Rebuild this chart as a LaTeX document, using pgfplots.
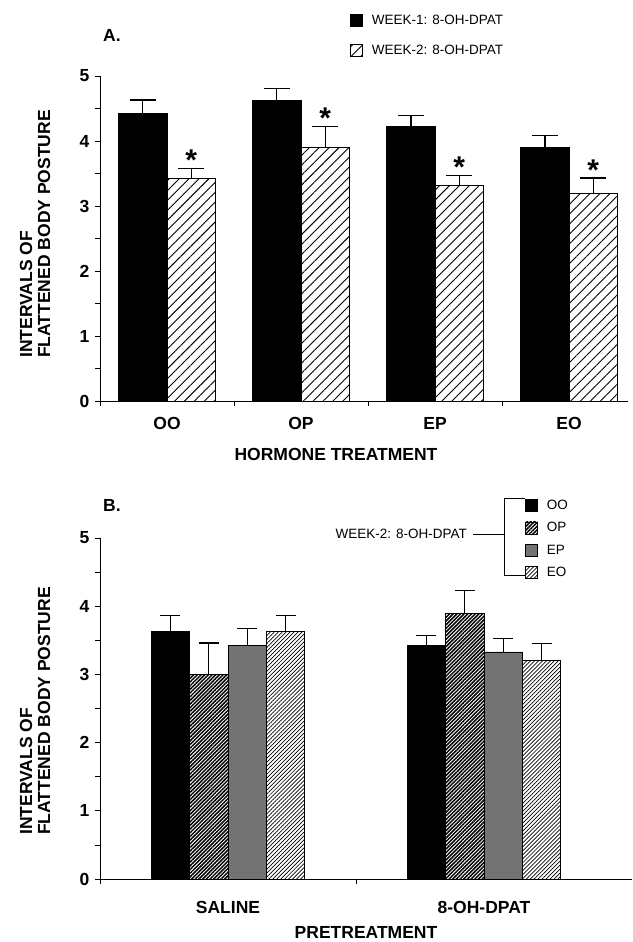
\documentclass[border=0pt]{standalone}
\usepackage{fontspec}
\setmainfont{Liberation Sans}
\usepackage{pgfplots}
\pgfplotsset{compat=1.18}
\usetikzlibrary{patterns.meta}

% fonts
\newcommand{\lblfont}{\fontsize{17.5}{18}\selectfont\bfseries}
\newcommand{\tickfont}{\fontsize{17.5}{17}\selectfont\bfseries}
\newcommand{\legfont}{\fontsize{13.5}{14}\selectfont}

\tikzset{
  sigstar/.style={anchor=base, font=\fontsize{30}{30}\selectfont\bfseries, yshift=-17pt, inner sep=0pt},
}

\pgfplotsset{
  sqlegend/.style={legend image code/.code={%
      \draw[##1,line width=0.7pt] (0pt,-6pt) rectangle (12pt,6pt);}},
  panel/.style={
    scale only axis,
    axis lines=left,
    axis line style={-, line width=0.9pt},
    ymin=0, ymax=5,
    ytick={0,1,2,3,4,5},
    minor y tick num=1,
    tick align=outside,
    major tick length=5pt,
    minor tick length=5pt,
    tick style={black, line width=0.8pt},
    major x tick style={draw=none},
    /pgf/number format/assume math mode=true,
    yticklabel style={font=\tickfont, xshift=-2pt},
    clip=false,
    legend cell align=left,
  },
  errs/.style={
    error bars/.cd,
      y dir=plus, y explicit,
      error bar style={black, line width=1.2pt},
      error mark options={black, rotate=90, line width=1.2pt, mark size=#1},
  },
}

\begin{document}
\begin{tikzpicture}
\useasboundingbox (0pt,0pt) rectangle (632pt,-942pt);

% ---------------- Panel A: hormone treatment ----------------
\begin{axis}[panel,
  at={(100pt,-401pt)}, anchor=south west,
  width=528pt, height=325pt,
  xmin=-0.5, xmax=3.44,
  ybar=0pt, bar width=0.36,
  xtick={0,1,2,3}, xticklabels={OO,OP,EP,EO},
  xticklabel style={font=\tickfont, yshift=-8pt},
  minor xtick={-0.5,0.5,1.5,2.5},
  legend style={draw=none, fill=none, at={(0.4735,1.191)}, anchor=north west,
    font=\legfont, inner sep=0pt, column sep=9pt, row sep=17pt,
    nodes={inner sep=0pt, text height=10pt, text depth=2pt}},
]
\addplot[fill=black, draw=black, line width=0.8pt, sqlegend, errs=13pt]
  coordinates {(0,4.42) +- (0,0.21) (1,4.62) +- (0,0.19) (2,4.22) +- (0,0.17) (3,3.90) +- (0,0.18)};
\addplot[draw=black, line width=0.8pt,
  pattern={Lines[angle=45,distance=7pt,line width=0.9pt]}, sqlegend, errs=13pt]
  coordinates {(0,3.42) +- (0,0.16) (1,3.90) +- (0,0.32) (2,3.32) +- (0,0.15) (3,3.20) +- (0,0.23)};
\legend{WEEK-1: 8-OH-DPAT, WEEK-2: 8-OH-DPAT}
% significance marks above the week-2 bars
\node[sigstar] at (axis cs:0.18,3.81) {*};
\node[sigstar] at (axis cs:1.18,4.45) {*};
\node[sigstar] at (axis cs:2.18,3.70) {*};
\node[sigstar] at (axis cs:3.18,3.66) {*};
\end{axis}

\node[anchor=west, font=\lblfont, inner sep=0pt] at (103pt,-35pt) {A.};
\node[rotate=90, anchor=west, align=left, font=\lblfont, inner sep=0pt]
  at (35pt,-358pt) {INTERVALS OF\\FLATTENED BODY POSTURE};
\node[font=\lblfont, inner sep=0pt] at (336pt,-454pt) {HORMONE TREATMENT};

% ---------------- Panel B: pretreatment ----------------
\begin{axis}[panel,
  at={(100pt,-879pt)}, anchor=south west,
  width=532pt, height=341pt,
  xmin=-0.5, xmax=1.578,
  ybar=0pt, bar width=0.15,
  xtick={0,1}, xticklabels={SALINE,8-OH-DPAT},
  xticklabel style={font=\tickfont, yshift=-14pt},
  minor xtick={-0.5,0.5},
  legend style={draw=none, fill=none, at={(0.799,1.114)}, anchor=north west,
    font=\legfont, inner sep=0pt, column sep=9pt, row sep=9.5pt,
    nodes={inner sep=0pt, text height=10pt, text depth=2pt}},
]
\addplot[fill=black, draw=black, line width=0.8pt, sqlegend, errs=10pt]
  coordinates {(0,3.63) +- (0,0.23) (1,3.42) +- (0,0.15)};
\addplot[draw=black, line width=0.8pt,
  pattern={Lines[angle=45,distance=2.6pt,line width=1.5pt]}, sqlegend, errs=10pt]
  coordinates {(0,3.00) +- (0,0.46) (1,3.90) +- (0,0.33)};
\addplot[fill=black!55, draw=black, line width=0.8pt, sqlegend, errs=10pt]
  coordinates {(0,3.42) +- (0,0.25) (1,3.33) +- (0,0.20)};
\addplot[draw=black, line width=0.8pt,
  pattern={Lines[angle=45,distance=2.8pt,line width=0.7pt]}, sqlegend, errs=10pt]
  coordinates {(0,3.63) +- (0,0.23) (1,3.21) +- (0,0.24)};
\legend{OO, OP, EP, EO}
\end{axis}

\node[anchor=west, font=\lblfont, inner sep=0pt] at (103pt,-505pt) {B.};
\node[rotate=90, anchor=west, align=left, font=\lblfont, inner sep=0pt]
  at (35pt,-835pt) {INTERVALS OF\\FLATTENED BODY POSTURE};
\node[font=\lblfont, inner sep=0pt] at (366pt,-932pt) {PRETREATMENT};

% bracket grouping the week-2 legend entries
\draw[line width=0.9pt] (525pt,-498pt) -- (504pt,-498pt) -- (504pt,-575pt) -- (525pt,-575pt);
\draw[line width=0.9pt] (473pt,-534pt) -- (504pt,-534pt);
\node[anchor=east, font=\legfont, inner sep=0pt] at (467pt,-534pt) {WEEK-2: 8-OH-DPAT};
\end{tikzpicture}
\end{document}
